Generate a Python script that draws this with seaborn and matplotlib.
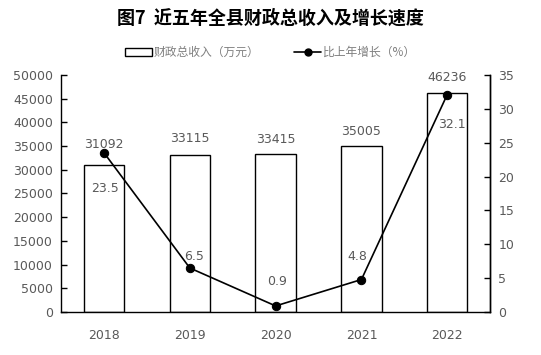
import numpy as np
import pandas as pd
import matplotlib.pyplot as plt
import seaborn as sns
from matplotlib.patches import Patch
from matplotlib.lines import Line2D

# chart data
years = ["2018", "2019", "2020", "2021", "2022"]
revenue = [31092, 33115, 33415, 35005, 46236]
growth = [23.5, 6.5, 0.9, 4.8, 32.1]

TITLE = "图7  近五年全县财政总收入及增长速度"
BAR_LABEL = "财政总收入（万元）"
LINE_LABEL = "比上年增长（%）"
GRAY = "#595959"
LEGEND_GRAY = "#7f7f7f"

# label placement (pixel offsets from the mark, as in the original)
bar_label_dy = [20, 16, 14, 15, 15]
growth_label_dx = [1, 4, 1, -4, 5]
growth_label_dy = [-36, 12, 24, 23, -30]

sns.set_theme(style="white")
plt.rcParams["font.family"] = ["DejaVu Sans", "Noto Sans CJK SC"]

df = pd.DataFrame({"year": years, "revenue": revenue, "growth": growth})
df["pos"] = np.arange(len(df))

fig = plt.figure(figsize=(5.41, 3.55), dpi=100)
ax = fig.add_axes([0.113, 0.121, 0.793, 0.668])

sns.barplot(data=df, x="year", y="revenue", color="white", edgecolor="black",
            linewidth=1.0, width=0.47, ax=ax)
ax.set_xlim(-0.5, 4.5)
ax.set_ylim(0, 50000)
ax.set_yticks(np.arange(0, 50001, 5000))
ax.set_xlabel("")
ax.set_ylabel("")

for i, v in enumerate(revenue):
    ax.annotate(f"{v}", (i, v), xytext=(0, bar_label_dy[i]),
                textcoords="offset pixels", ha="center", va="center",
                fontsize=9, color=GRAY)

ax2 = ax.twinx()
sns.lineplot(data=df, x="pos", y="growth", color="black", marker="o",
             markersize=6, markeredgecolor="black", linewidth=1.2, ax=ax2)
ax2.set_ylim(0, 35)
ax2.set_yticks(np.arange(0, 36, 5))
ax2.set_xlim(-0.5, 4.5)
ax2.set_xlabel("")
ax2.set_ylabel("")

for i, g in enumerate(growth):
    ax2.annotate(f"{g}", (i, g), xytext=(growth_label_dx[i], growth_label_dy[i]),
                 textcoords="offset pixels", ha="center", va="center",
                 fontsize=9, color=GRAY)

for a in (ax, ax2):
    a.spines["top"].set_visible(False)
    for s in a.spines.values():
        s.set_color("black")
        s.set_linewidth(1.0)
    a.tick_params(axis="y", direction="in", length=4, width=1, colors="black",
                  labelcolor=GRAY, labelsize=9)
ax.tick_params(axis="y", left=True, pad=6)
ax2.tick_params(axis="y", right=True, pad=6)
ax.tick_params(axis="x", bottom=False, labelcolor=GRAY, labelsize=9, pad=6)
ax2.spines["left"].set_visible(False)
ax2.spines["bottom"].set_visible(False)

fig.text(0.5, 0.948, TITLE, ha="center", va="center", fontsize=13,
         fontweight="bold", color="black",
         family=["Noto Sans CJK SC", "DejaVu Sans"])

handles = [
    Patch(facecolor="white", edgecolor="black", linewidth=1.0, label=BAR_LABEL),
    Line2D([0], [0], color="black", marker="o", markersize=5, linewidth=1.2,
           label=LINE_LABEL),
]
leg = fig.legend(handles=handles, loc="center", bbox_to_anchor=(0.5, 0.852),
                 ncol=2, frameon=False, columnspacing=2.9, handlelength=2.3,
                 handleheight=0.6, handletextpad=0.15,
                 prop={"family": ["Noto Sans CJK SC", "DejaVu Sans"], "size": 8.5})
for t in leg.get_texts():
    t.set_color(LEGEND_GRAY)

fig.savefig("out.png", dpi=100)
